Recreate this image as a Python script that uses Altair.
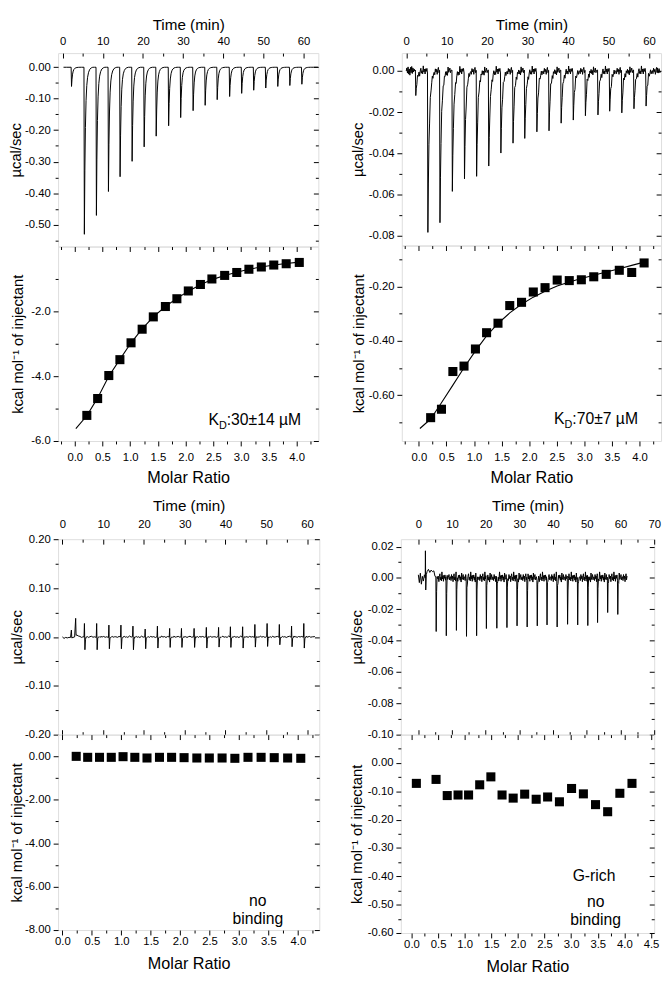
import json
import altair as alt
import pandas as pd

FONT = "Liberation Sans"

# ---------------- Panel A (top-left) ----------------
a_inj_t = [2.1, 5.3, 8.3, 11.3, 14.2, 17.2, 20.2, 23.2, 26.3, 29.3, 32.4, 35.4, 38.4, 41.5, 44.5, 47.5, 50.5, 53.5, 56.5, 59.5]
a_inj_down = [-0.061, -0.531, -0.471, -0.395, -0.348, -0.299, -0.253, -0.219, -0.186, -0.160, -0.138, -0.121,
              -0.103, -0.093, -0.083, -0.073, -0.066, -0.061, -0.058, -0.054]
a_lead_t, a_lead_v = [0.2, 1.0], [0.0, 0.0]
a_trail_t, a_trail_v = [62.5, 63.6], [0.0, 0.0]
a_ratio = [0.218, 0.413, 0.614, 0.814, 1.015, 1.215, 1.416, 1.634, 1.841, 2.047, 2.265, 2.472, 2.702, 2.920,
           3.139, 3.363, 3.587, 3.811, 4.047]
a_heat = [-5.21, -4.69, -3.98, -3.49, -2.97, -2.55, -2.17, -1.85, -1.61, -1.37, -1.17, -1.00, -0.89, -0.80,
          -0.70, -0.63, -0.57, -0.53, -0.49]
a_fit_ratio = [0.02, 0.218, 0.413, 0.614, 0.814, 1.015, 1.215, 1.416, 1.634, 1.841, 2.047, 2.265, 2.472, 2.702,
               2.920, 3.139, 3.363, 3.587, 3.811, 4.047]
a_fit_heat = [-5.62, -5.22, -4.67, -4.00, -3.48, -2.97, -2.54, -2.17, -1.85, -1.60, -1.38, -1.18, -1.02, -0.89,
              -0.79, -0.70, -0.63, -0.57, -0.52, -0.48]

# ---------------- Panel B (top-right) ----------------
b_inj_t = [2.26, 5.25, 8.24, 11.3, 14.3, 17.3, 20.3, 23.3, 26.3, 29.2, 32.2, 35.2, 38.2, 41.2, 44.2, 47.3, 50.2,
           53.2, 56.2, 59.2]
b_inj_down = [-0.0119, -0.0783, -0.0736, -0.0584, -0.0523, -0.0511, -0.0461, -0.0398, -0.0350, -0.0327, -0.0295,
              -0.0290, -0.0253, -0.0238, -0.0217, -0.0213, -0.0195, -0.0203, -0.0183, -0.0170]
b_lead_t = [0.0, 0.15, 0.3, 0.45, 0.6, 0.75, 0.9, 1.05, 1.2, 1.35, 1.5, 1.65, 1.8, 1.95, 2.1]
b_lead_v = [0.0, 0.0015, -0.001, 0.002, -0.0015, 0.001, -0.002, 0.0018, -0.0008, 0.0022, -0.0012, 0.0015,
            -0.0005, 0.001, 0.0]
b_trail_t = [62.1, 62.3, 62.5, 62.7, 62.9]
b_trail_v = [0.0015, -0.001, 0.0012, -0.0008, 0.0]
b_ratio = [0.213, 0.409, 0.616, 0.818, 1.025, 1.227, 1.434, 1.647, 1.861, 2.074, 2.287, 2.507, 2.726, 2.945,
           3.170, 3.396, 3.633, 3.858, 4.083]
b_heat = [-0.683, -0.652, -0.513, -0.493, -0.430, -0.370, -0.335, -0.270, -0.258, -0.220, -0.204, -0.176, -0.178,
          -0.175, -0.164, -0.155, -0.140, -0.148, -0.113]
b_fit_ratio = [0.018, 0.213, 0.409, 0.616, 0.818, 1.025, 1.227, 1.434, 1.647, 1.861, 2.074, 2.287, 2.507, 2.726,
               2.945, 3.170, 3.396, 3.633, 3.858, 4.083]
b_fit_heat = [-0.723, -0.688, -0.628, -0.563, -0.499, -0.437, -0.382, -0.336, -0.297, -0.265, -0.239, -0.217,
              -0.198, -0.183, -0.170, -0.158, -0.146, -0.134, -0.122, -0.110]

# ---------------- Panel C (bottom-left) ----------------
c_inj_t = [5.3, 8.3, 11.3, 14.25, 17.2, 20.2, 23.2, 26.2, 29.1, 32.2, 35.2, 38.2, 41.1, 44.1, 47.1, 50.1, 53.1,
           56.1, 59.1]
c_inj_up = [0.0275, 0.0275, 0.0242, 0.0242, 0.0221, 0.0161, 0.0221, 0.0174, 0.0174, 0.0174, 0.0195, 0.0195,
            0.0208, 0.0208, 0.0255, 0.0275, 0.0255, 0.0221, 0.0275]
c_inj_down = [-0.0262, -0.0262, -0.0242, -0.0242, -0.0262, -0.0242, -0.0228, -0.0215, -0.0215, -0.0215, -0.0228,
              -0.0208, -0.0215, -0.0228, -0.0208, -0.0195, -0.0161, -0.0201, -0.0228]
c_lead_t = [0.0, 0.4, 0.8, 1.2, 1.6, 2.0, 2.2, 2.3, 2.6, 3.0, 3.25, 3.35, 3.5, 3.9, 4.3, 4.7, 5.0]
c_lead_v = [0.0, -0.003, -0.001, -0.002, -0.001, -0.001, 0.014, -0.002, -0.001, 0.0, 0.038, 0.003, 0.004, 0.002,
            0.001, -0.001, 0.0]
c_trail_t = [61.9]
c_trail_v = [0.001]
c_ratio = [0.234, 0.429, 0.630, 0.830, 1.030, 1.230, 1.437, 1.649, 1.855, 2.067, 2.284, 2.496, 2.713, 2.930,
           3.153, 3.376, 3.599, 3.827, 4.050]
c_heat = [0.0, -0.045, -0.045, -0.045, -0.015, -0.045, -0.076, -0.045, -0.045, -0.06, -0.076, -0.076, -0.076,
          -0.09, -0.045, -0.045, -0.06, -0.076, -0.09]

# ---------------- Panel D (bottom-right) ----------------
d_inj_t = [5.2, 8.2, 11.2, 14.2, 17.2, 20.1, 23.2, 26.2, 29.2, 32.2, 35.2, 38.1, 41.1, 44.2, 47.2, 50.2, 53.1,
           56.1, 59.1]
d_inj_down = [-0.0342, -0.0369, -0.0335, -0.0373, -0.0369, -0.0323, -0.0321, -0.0317, -0.0306, -0.0313, -0.0306,
              -0.0300, -0.0313, -0.0296, -0.0300, -0.0304, -0.0285, -0.0221, -0.0233]
d_lead_t = [0.0, 0.3, 0.6, 0.9, 1.2, 1.5, 1.8, 2.05, 2.1, 2.2, 2.35, 2.6, 3.0, 3.4, 3.8, 4.2, 4.6, 4.95]
d_lead_v = [0.002, -0.003, 0.003, -0.004, 0.001, -0.002, 0.002, 0.0, 0.0173, -0.0077, 0.002, 0.004, 0.0055,
            0.0035, 0.005, 0.004, 0.0045, 0.001]
d_trail_t = [61.9]
d_trail_v = [0.001]
d_ratio = [0.092, 0.462, 0.672, 0.875, 1.073, 1.282, 1.492, 1.702, 1.911, 2.127, 2.343, 2.558, 2.780, 3.008,
           3.230, 3.458, 3.686, 3.915, 4.143]
d_heat = [-0.072, -0.058, -0.115, -0.113, -0.113, -0.077, -0.049, -0.113, -0.124, -0.110, -0.128, -0.120,
          -0.137, -0.090, -0.109, -0.147, -0.172, -0.107, -0.072]

# ---------------- shared peak shapes (minutes after each injection) ----------------
cycle_off = [0.0, 0.1, 0.22, 0.36, 0.52, 0.7, 0.9, 1.15, 1.45, 1.8, 2.2, 2.6]
fast_decay = [0.0, 1.0, 0.62, 0.36, 0.2, 0.11, 0.06, 0.03, 0.012, 0.004, 0.0, 0.0]
bipolar_down = [0.0, 0.0, 1.0, 0.15, 0.04, 0.0, 0.0, 0.0, 0.0, 0.0, 0.0, 0.0]
bipolar_up = [0.0, 1.0, 0.0, 0.0, 0.0, 0.0, 0.0, 0.0, 0.0, 0.0, 0.0, 0.0]
no_up = [0.0] * 12

dense_off = [0.0, 0.1, 0.22, 0.36, 0.52, 0.7, 0.9, 1.05, 1.2, 1.35, 1.5, 1.65, 1.8, 1.95, 2.1, 2.25, 2.4, 2.55,
             2.7, 2.85]
slow_decay_dense = [0.0, 1.0, 0.7, 0.46, 0.3, 0.19, 0.11, 0.075, 0.05, 0.035, 0.022, 0.014, 0.009, 0.005, 0.002,
                    0.0, 0.0, 0.0, 0.0, 0.0]
sharp_dense = [0.0, 1.0, 0.2, 0.04, 0.0, 0.0, 0.0, 0.0, 0.0, 0.0, 0.0, 0.0, 0.0, 0.0, 0.0, 0.0, 0.0, 0.0, 0.0, 0.0]
no_up_dense = [0.0] * 20

baseline_jitter = [0.3, -0.7, 0.9, -0.2, 0.5, -1.0, 0.4, 1.1, -0.5, 0.2, -0.8, 1.6, -0.3, 0.6, -0.9, 0.7, -0.1,
                   0.8, -0.6, 0.3, -1.1, 1.3, -0.4, 0.1, 0.9, -0.5, 0.2]


def build_trace(lead_t, lead_v, inj_t, inj_down, inj_up, offs, down_frac, up_frac, amp, trail_t, trail_v):
    ts, vs = list(lead_t), list(lead_v)
    k = 0
    for t0, d, u in zip(inj_t, inj_down, inj_up):
        for o, fd, fu in zip(offs, down_frac, up_frac):
            val = d * fd + u * fu
            if fd < 0.5 and fu == 0:
                val += amp * baseline_jitter[k % len(baseline_jitter)]
                k += 1
            ts.append(t0 + o)
            vs.append(val)
    ts += list(trail_t)
    vs += list(trail_v)
    return pd.DataFrame({"t": ts, "v": vs})


COMMON = dict(domain=False, grid=False, labelFont=FONT, labelFontSize=11.5, labelColor="black",
              titleFont=FONT, titleFontWeight="normal", titleColor="black",
              tickColor="black", tickWidth=1, labelFlush=False, labelOverlap=False)


def label_expr(majors, fmt):
    return ("indexof(%s, datum.value) >= 0 ? replace(format(datum.value, '%s'), '\u2212', '-') : ''"
            % (json.dumps(majors), fmt))


def tick_size(majors, big=5, small=3):
    return {"condition": {"test": "indexof(%s, datum.value) >= 0" % json.dumps(majors), "value": big},
            "value": small}


def top_panel(df, xdom, ydom, xmaj, xmin, ymaj, ymin, yfmt, W, H, yext, ytpad, bottom_ticks, xlp, xtp):
    xs = alt.Scale(domain=xdom, nice=False, zero=False)
    ys = alt.Scale(domain=ydom, nice=False, zero=False)
    xall = sorted(xmaj + xmin)
    yall = sorted(ymaj + ymin)
    base = alt.Chart(df)
    main = base.mark_line(color="black", strokeWidth=1.0).encode(
        x=alt.X("t:Q", scale=xs, axis=alt.Axis(orient="top", title="Time (min)", values=xmaj, format="d",
                                              ticks=False, tickSize=0, labelPadding=xlp, titlePadding=xtp,
                                              titleFontSize=15.5, **COMMON)),
        y=alt.Y("v:Q", scale=ys, axis=alt.Axis(orient="left", title="µcal/sec", values=yall,
                                              labelExpr=label_expr(ymaj, yfmt), tickSize=tick_size(ymaj),
                                              labelPadding=3, minExtent=yext, maxExtent=yext,
                                              titlePadding=ytpad, titleFontSize=15, **COMMON)),
    )
    mirror = base.mark_line(strokeOpacity=0).encode(
        x=alt.X("t:Q", scale=xs, axis=alt.Axis(orient="bottom", offset=-H, values=xall, labels=False, title="",
                                              tickSize=tick_size(xmaj), **COMMON)),
        y=alt.Y("v:Q", scale=ys, axis=alt.Axis(orient="left", offset=-W, values=yall, labels=False, title="",
                                              tickSize=tick_size(ymaj), **COMMON)),
    )
    layers = [mirror, main]
    if bottom_ticks:
        low = base.mark_line(strokeOpacity=0).encode(
            x=alt.X("t:Q", scale=xs, axis=alt.Axis(orient="top", offset=-H, values=xall, labels=False, title="",
                                                  tickSize=tick_size(xmaj), **COMMON)),
            y=alt.Y("v:Q", scale=ys, axis=None),
        )
        layers.append(low)
    return alt.layer(*layers).resolve_axis(x="independent", y="independent").properties(width=W, height=H)


def bottom_panel(ratio, heat, fit_r, fit_h, xdom, ydom, xmaj, xmin, ymaj, ymin, yfmt, W, H, yext, ytpad, notes,
                 xlp, xtp):
    xs = alt.Scale(domain=xdom, nice=False, zero=False)
    ys = alt.Scale(domain=ydom, nice=False, zero=False)
    xall = sorted(xmaj + xmin)
    yall = sorted(ymaj + ymin)
    dfp = pd.DataFrame({"x": ratio, "y": heat})
    mirror = alt.Chart(dfp).mark_point(opacity=0).encode(
        x=alt.X("x:Q", scale=xs, axis=alt.Axis(orient="bottom", offset=-H, values=xall, labels=False, title="",
                                              tickSize=tick_size(xmaj), **COMMON)),
        y=alt.Y("y:Q", scale=ys, axis=alt.Axis(orient="left", offset=-W, values=yall, labels=False, title="",
                                              tickSize=tick_size(ymaj), **COMMON)),
    )
    layers = [mirror]
    if fit_r:
        dff = pd.DataFrame({"x": fit_r, "y": fit_h})
        layers.append(alt.Chart(dff).mark_line(color="black", strokeWidth=1.1).encode(
            x=alt.X("x:Q", scale=xs, axis=None), y=alt.Y("y:Q", scale=ys, axis=None)))
    pts = alt.Chart(dfp).mark_square(size=85, color="black", opacity=1).encode(
        x=alt.X("x:Q", scale=xs, axis=alt.Axis(orient="bottom", title="Molar Ratio", values=xall,
                                              labelExpr=label_expr(xmaj, ".1f"), tickSize=tick_size(xmaj),
                                              labelPadding=xlp, titlePadding=xtp, titleFontSize=16.5, **COMMON)),
        y=alt.Y("y:Q", scale=ys, axis=alt.Axis(orient="left", title="kcal mol\u207b\u00b9 of injectant",
                                              values=yall, labelExpr=label_expr(ymaj, yfmt),
                                              tickSize=tick_size(ymaj), labelPadding=3, minExtent=yext,
                                              maxExtent=yext, titlePadding=ytpad, titleFontSize=15, **COMMON)),
    )
    layers.append(pts)
    for note in notes:
        dft = pd.DataFrame({"x": [note["x"]], "y": [note["y"]], "s": [note["text"]]})
        layers.append(alt.Chart(dft).mark_text(
            align=note.get("align", "left"), baseline="alphabetic", font=FONT, fontSize=note.get("size", 16),
            color="black", dx=note.get("dx", 0), dy=note.get("dy", 0), lineBreak="\n", lineHeight=19).encode(
            x=alt.X("x:Q", scale=xs, axis=None), y=alt.Y("y:Q", scale=ys, axis=None), text="s:N"))
    return alt.layer(*layers).resolve_axis(x="independent", y="independent").properties(width=W, height=H)


time_major = [0, 10, 20, 30, 40, 50, 60]
time_minor = [5, 15, 25, 35, 45, 55]
ratio_major = [0.0, 0.5, 1.0, 1.5, 2.0, 2.5, 3.0, 3.5, 4.0]
ratio_minor = [0.25, 0.75, 1.25, 1.75, 2.25, 2.75, 3.25, 3.75, 4.25]

# ---- Panel A ----
a_top = top_panel(
    build_trace(a_lead_t, a_lead_v, a_inj_t, a_inj_down, [0.0] * 20, cycle_off, fast_decay, no_up, 0.0,
                a_trail_t, a_trail_v),
    [-1.15, 63.7], [-0.57, 0.045], time_major, time_minor,
    [0.0, -0.1, -0.2, -0.3, -0.4, -0.5], [-0.05, -0.15, -0.25, -0.35, -0.45, -0.55], ".2f",
    265, 197, 32, 3, False, 6.5, 3.5)
a_bot = bottom_panel(
    a_ratio, a_heat, a_fit_ratio, a_fit_heat, [-0.30, 4.39], [-6.0, 0.0],
    ratio_major, [-0.25] + ratio_minor, [-2.0, -4.0, -6.0], [-1.0, -3.0, -5.0], ".1f", 265, 198, 29, 4,
    [dict(x=2.41, y=-5.52, text="K"), dict(x=2.41, y=-5.52, text="D", size=11, dx=10.7, dy=4),
     dict(x=2.41, y=-5.52, text=":30±14 µM", dx=18.6)], 6.25, 6.5)

# ---- Panel B ----
b_top = top_panel(
    build_trace(b_lead_t, b_lead_v, b_inj_t, b_inj_down, [0.0] * 20, dense_off, slow_decay_dense, no_up_dense,
                0.0016, b_trail_t, b_trail_v),
    [-1.1, 63.0], [-0.0847, 0.0087], time_major, time_minor,
    [0.0, -0.02, -0.04, -0.06, -0.08], [-0.01, -0.03, -0.05, -0.07], ".2f",
    264, 196, 33, 4, False, 6.5, 3.5)
b_bot = bottom_panel(
    b_ratio, b_heat, b_fit_ratio, b_fit_heat, [-0.31, 4.39], [-0.769, -0.049],
    ratio_major, [-0.25] + ratio_minor, [-0.2, -0.4, -0.6], [-0.1, -0.3, -0.5, -0.7], ".2f", 264, 199, 32, 4,
    [dict(x=2.45, y=-0.706, text="K"), dict(x=2.45, y=-0.706, text="D", size=11, dx=10.7, dy=4),
     dict(x=2.45, y=-0.706, text=":70±7 µM", dx=18.6)], 6.25, 6.5)

# ---- Panel C ----
c_top = top_panel(
    build_trace(c_lead_t, c_lead_v, c_inj_t, c_inj_down, c_inj_up, cycle_off, bipolar_down, bipolar_up, 0.0012,
                c_trail_t, c_trail_v),
    [-1.06, 63.0], [-0.2, 0.2], time_major, time_minor,
    [0.2, 0.1, 0.0, -0.1, -0.2], [0.15, 0.05, -0.05, -0.15], ".2f",
    266, 199, 32, 2, True, 10, 5.2)
c_bot = bottom_panel(
    c_ratio, c_heat, [], [], [-0.074, 4.365], [-8.0, 1.0],
    ratio_major, ratio_minor, [0.0, -2.0, -4.0, -6.0, -8.0], [-1.0, -3.0, -5.0, -7.0], ".2f", 266, 199, 31, 3,
    [dict(x=3.32, y=-6.88, text="no\nbinding", align="center")], 0.5, 8.75)

# ---- Panel D ----
d_top = top_panel(
    build_trace(d_lead_t, d_lead_v, d_inj_t, d_inj_down, [0.0] * 19, dense_off, sharp_dense, no_up_dense, 0.0024,
                d_trail_t, d_trail_v),
    [-5.2, 70.0], [-0.1, 0.0247], time_major + [70], time_minor + [65],
    [0.02, 0.0, -0.02, -0.04, -0.06, -0.08, -0.1], [0.01, -0.01, -0.03, -0.05, -0.07, -0.09], ".2f",
    258, 199, 33, 4, True, 10, 5.2)
d_bot = bottom_panel(
    d_ratio, d_heat, [], [], [-0.2, 4.56], [-0.6, 0.1],
    ratio_major + [4.5], ratio_minor,
    [0.0, -0.1, -0.2, -0.3, -0.4, -0.5, -0.6], [0.05, -0.05, -0.15, -0.25, -0.35, -0.45, -0.55], ".2f",
    258, 202, 33, 4,
    [dict(x=3.43, y=-0.417, text="G-rich", align="center"),
     dict(x=3.46, y=-0.507, text="no\nbinding", align="center")], 0.5, 8.75)


def cell(top, bot):
    return alt.vconcat(top, bot, spacing=0, bounds="flush")


row1 = alt.hconcat(cell(a_top, a_bot), cell(b_top, b_bot), spacing=29)
row2 = alt.hconcat(cell(c_top, c_bot), cell(d_top, d_bot), spacing=29)

chart = alt.vconcat(row1, row2, spacing=11).properties(padding=0).configure_view(
    stroke="black", strokeWidth=1.2).configure(background="white")

chart.save("out.html", embed_options={"renderer": "svg", "actions": False})
